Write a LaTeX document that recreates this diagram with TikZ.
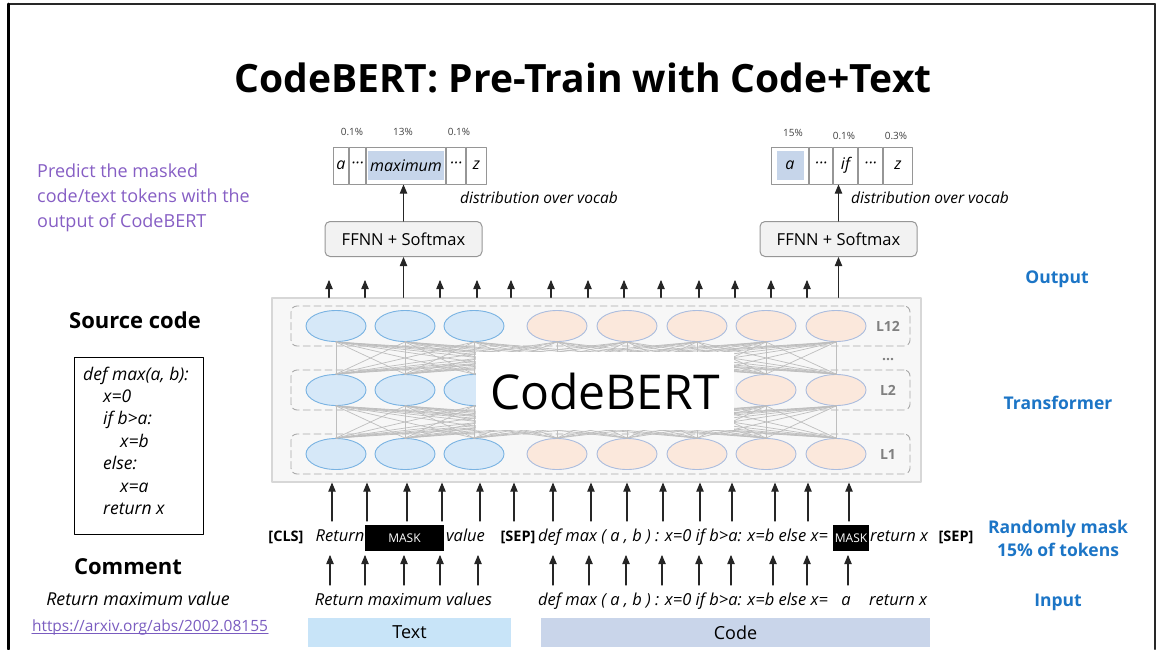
\documentclass[tikz,border=0pt]{standalone}
\usepackage{fontspec}
\setmainfont{Open Sans}
\usetikzlibrary{arrows,shapes.geometric}
\definecolor{framegray}{RGB}{40,40,40}
\definecolor{purpletxt}{RGB}{134,94,196}
\definecolor{linkpurple}{RGB}{122,92,192}
\definecolor{bluetxt}{RGB}{28,117,198}
\definecolor{nodeblue}{RGB}{214,232,248}
\definecolor{edgeblue}{RGB}{120,178,226}
\definecolor{nodeorange}{RGB}{251,232,220}
\definecolor{edgeorange}{RGB}{170,188,222}
\definecolor{cellblue}{RGB}{198,213,234}
\definecolor{cellgray}{RGB}{150,150,150}
\definecolor{textbar}{RGB}{200,228,248}
\definecolor{codebar}{RGB}{201,213,234}
\definecolor{boxfill}{RGB}{247,247,247}
\definecolor{boxedge}{RGB}{215,215,215}
\definecolor{dashgray}{RGB}{170,170,170}
\definecolor{wiregray}{RGB}{190,190,190}
\definecolor{ffnnfill}{RGB}{242,242,242}
\definecolor{ffnnedge}{RGB}{150,150,150}
\tikzset{
  every node/.style={inner sep=0pt},
  arr/.style={->,line width=1.1pt,color=black!85},
  encblue/.style={ellipse,draw=edgeblue,fill=nodeblue,line width=0.9pt,minimum width=60pt,minimum height=31pt},
  encorange/.style={ellipse,draw=edgeorange,fill=nodeorange,line width=0.9pt,minimum width=60pt,minimum height=31pt},
  wire/.style={color=wiregray,line width=0.7pt},
  layerbox/.style={draw=dashgray,dash pattern=on 7pt off 4pt,rounded corners=6pt,line width=0.9pt,minimum width=619pt,minimum height=40pt},
  lyr/.style={color=black!50,font=\bfseries\fontsize{14}{16}\selectfont},
  cell/.style={draw=cellgray,line width=1pt,minimum height=37pt,anchor=west,font=\itshape\fontsize{16}{18}\selectfont},
  pct/.style={color=black!75,font=\fontsize{10}{12}\selectfont},
  dist/.style={anchor=mid west,font=\itshape\fontsize{15.5}{18}\selectfont},
  ffnn/.style={draw=ffnnedge,fill=ffnnfill,rounded corners=5pt,line width=1pt,minimum width=157pt,minimum height=35pt,font=\fontsize{16.5}{20}\selectfont},
  lvl/.style={color=bluetxt,align=center,font=\bfseries\fontsize{17.5}{23}\selectfont},
  tok/.style={anchor=mid,font=\itshape\fontsize{16.5}{20}\selectfont},
  sep/.style={anchor=mid,font=\bfseries\fontsize{14.5}{18}\selectfont},
  maskbox/.style={fill=black,text=white,minimum height=26pt},
  codetxt/.style={anchor=mid west,font=\itshape\fontsize{17.5}{20}\selectfont},
  bar/.style={minimum height=29pt,font=\fontsize{18}{20}\selectfont}
}

\begin{document}
\begin{tikzpicture}[x=1pt,y=-1pt,>=triangle 45,line cap=round,line join=round]
\useasboundingbox (0,0) rectangle (1157,649);
\draw[line width=1.4pt,color=framegray] (8,4) -- (1155,4);
\draw[line width=3pt,color=black] (8,4) -- (8,649);
\draw[line width=2pt,color=framegray] (1155,4) -- (1155,649);

\node[anchor=base,font=\bfseries\fontsize{39}{46}\selectfont] (title) at (583,92) {CodeBERT: Pre-Train with Code+Text};

\node[anchor=north west,align=left,color=purpletxt,font=\fontsize{18}{25}\selectfont] (task) at (37,164) {Predict the masked\\code/text tokens with the\\output of CodeBERT};

\node[font=\bfseries\fontsize{22}{26}\selectfont] (srchead) at (135,320) {Source code};
\node[draw,line width=0.8pt,minimum width=129pt,minimum height=177pt,anchor=north west] (codebox) at (74,357) {};
\foreach \lx/\ly/\lt [count=\i] in {83/378/{def max(a, b):},103/400/{x=0},103/422/{if b>a:},120/445/{x=b},103/467/{else:},120/490/{x=a},103/512/{return x}}
  \node[codetxt] (code\i) at (\lx,\ly) {\lt};
\node[font=\bfseries\fontsize{22}{26}\selectfont] (cmthead) at (128,567) {Comment};
\node[font=\itshape\fontsize{17.8}{20}\selectfont] (cmt) at (138,599) {Return maximum value};
\node[color=linkpurple,font=\fontsize{15.5}{18}\selectfont] (url) at (150,627) {https://arxiv.org/abs/2002.08155};
\draw[color=linkpurple,line width=0.8pt] ([yshift=-2.5pt]url.base west) -- ([yshift=-2.5pt]url.base east);

% transformer block
\node[draw=boxedge,fill=boxfill,line width=1.2pt,minimum width=649pt,minimum height=184pt] (tf) at (596.5,390) {};
\foreach \ly/\ln in {326/L12,390/L2,454/L1}{
  \node[layerbox] (box\ln) at (600.5,\ly) {};
  \node[lyr] (lab\ln) at (888,\ly) {\ln};
}
\node[lyr] (dots) at (888,360) {...};
\foreach \r/\ly in {1/326,2/390,3/454}{
  \foreach \x [count=\i] in {336,405,474}
    \node[encblue] (n\r\i) at (\x,\ly) {};
  \foreach \x [count=\i from 4] in {557,627,697,766,836}
    \node[encorange] (n\r\i) at (\x,\ly) {};
}
\foreach \r/\s in {1/2,2/3}
  \foreach \i in {1,...,8}
    \foreach \j in {1,...,8}
      \draw[wire] (n\r\i.south) -- (n\s\j.north);
\node[fill=white,minimum width=258pt,minimum height=78pt,font=\fontsize{48}{56}\selectfont] (bert) at (605,391) {CodeBERT};

% output heads
\node[ffnn] (ffnnL) at (403.5,239) {FFNN + Softmax};
\node[ffnn] (ffnnR) at (838.5,239) {FFNN + Softmax};
\node[cell,minimum width=15pt] (vl1) at (333,165.5) {a};
\node[cell,minimum width=16pt] (vl2) at (vl1.east) {···};
\node[cell,minimum width=79pt] (vl3) at (vl2.east) {};
\node[cell,minimum width=19pt] (vl4) at (vl3.east) {···};
\node[cell,minimum width=20pt] (vl5) at (vl4.east) {z};
\node[fill=cellblue,minimum width=76pt,minimum height=29pt,font=\itshape\fontsize{16}{18}\selectfont] (hitL) at (vl3) {maximum};
\node[cell,minimum width=37pt] (vr1) at (771,165.5) {};
\node[cell,minimum width=23pt] (vr2) at (vr1.east) {···};
\node[cell,minimum width=24pt] (vr3) at (vr2.east) {if};
\node[cell,minimum width=24pt] (vr4) at (vr3.east) {···};
\node[cell,minimum width=29pt] (vr5) at (vr4.east) {z};
\node[fill=cellblue,minimum width=27pt,minimum height=29pt,font=\itshape\fontsize{16}{18}\selectfont] (hitR) at (vr1) {a};
\node[pct] (pl1) at (352,132) {0.1\%};
\node[pct] (pl2) at (403,132) {13\%};
\node[pct] (pl3) at (459,132) {0.1\%};
\node[pct] (pr1) at (793,133) {15\%};
\node[pct] (pr2) at (844,136) {0.1\%};
\node[pct] (pr3) at (896,136) {0.3\%};
\node[dist] (distL) at (460,201) {distribution over vocab};
\node[dist] (distR) at (851,201) {distribution over vocab};
\draw[arr] (ffnnL.north) -- (ffnnL.north |- vl3.south);
\draw[arr] (ffnnR.north) -- (ffnnR.north |- vr3.south);
\draw[arr] (ffnnL.south |- tf.north) -- (ffnnL.south);
\draw[arr] (ffnnR.south |- tf.north) -- (ffnnR.south);
\foreach \x [count=\i] in {329,365,440,477,511,551,588,624,661,699,735,771,807}{
  \coordinate (o\i) at (\x,280);
  \draw[arr] (o\i |- tf.north) -- (o\i);
}

% masked input row
\node[sep] (cls) at (286,539) {[CLS]};
\node[tok] (w1) at (340,539) {Return};
\node[maskbox,minimum width=79pt,font=\fontsize{12}{14}\selectfont] (mask1) at (404.5,538) {MASK};
\node[tok] (w3) at (465.5,539) {value};
\node[sep] (sep1) at (518,539) {[SEP]};
\node[tok,anchor=mid west] (code) at (538,539) {def max ( a , b ) : x=0 if b>a: x=b else x=};
\node[maskbox,minimum width=36pt,font=\fontsize{12}{14}\selectfont] (mask2) at (851,538) {MASK};
\node[tok,anchor=mid west] (ret) at (870,539) {return x};
\node[sep] (sep2) at (956,539) {[SEP]};
\foreach \x [count=\i] in {332,367,407,442,480,514,553,591,627,663,700,732,775,808,849}{
  \coordinate (u\i) at (\x,521);
  \draw[arr] (u\i) -- (u\i |- tf.south);
}
\foreach \x [count=\i] in {330,365,404,440,478,553,589,626,662,699,731,773,807,848}{
  \coordinate (d\i) at (\x,585);
  \draw[arr] (d\i) -- ++(0,-30);
}

% raw input row
\node[tok] (rawtxt) at (403.5,603) {Return maximum values};
\node[tok,anchor=mid west] (rawcode) at (538,603) {def max ( a , b ) : x=0 if b>a: x=b else x=};
\node[tok] (rawa) at (846,603) {a};
\node[tok,anchor=mid west] (rawret) at (869,603) {return x};
\node[bar,fill=textbar] (textbar) at (409.5,632.5) [minimum width=203pt] {Text};
\node[bar,fill=codebar] (codebar) at (735.5,632.5) [minimum width=389pt] {Code};

% level labels
\node[lvl] (lout) at (1057,279) {Output};
\node[lvl] (ltf) at (1058,403) {Transformer};
\node[lvl] (lmask) at (1058,538) {Randomly mask\\15\% of tokens};
\node[lvl] (lin) at (1058,602) {Input};
\end{tikzpicture}
\end{document}
